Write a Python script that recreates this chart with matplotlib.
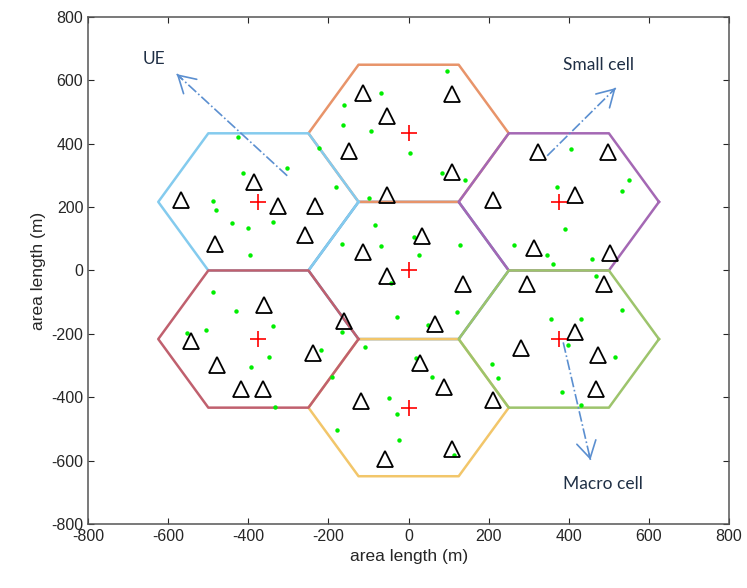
import numpy as np
import matplotlib
matplotlib.use("Agg")
import matplotlib.pyplot as plt

plt.rcParams['axes.unicode_minus'] = False

# hexagon layout (m)
R = 250
macro_x = [0, 0, 0, 375, 375, -375, -375]
macro_y = [0, 433, -433, 216.5, -216.5, 216.5, -216.5]
hex_colors = ['#5a8fc8', '#E8946A', '#F2C66A', '#A468B4', '#9DC46C', '#84CBEE', '#C0606E']

# small cells (triangles)
sc_x = [-569, -386, -326, -233, -258, -484,
        -115, 108, -55, -148, 108, -53,
        324, 497, 416, 211, 313, 502,
        33, -113, -55, 135, -161, 65,
        296, 487, 416, 281, 474, 469,
        -361, -542, -479, -238, -419, -364,
        28, 88, -120, 211, 108, -60]
sc_y = [224, 280, 205, 205, 113, 85,
        561, 557, 488, 378, 312, 239,
        375, 375, 239, 224, 72, 54,
        110, 57, -19, -44, -161, -170,
        -44, -44, -195, -246, -268, -375,
        -110, -224, -299, -261, -375, -375,
        -293, -369, -413, -409, -564, -595]

# users (green dots)
ue_x = [-426, -161, -163, -223, -303, -414, -181, -489, -482, -441, -401, -339, -396, -166, -100,
        95, -68, -93, 3, 83, 140, -85, -68, 13, 25, 128,
        406, 371, 549, 532, 391, 263, 346, 361, 459, 469,
        -489, -431, -339, -507, -552, -166, -218, -349, -394, -191, -334,
        -45, 120, -30, 48, -110, 18, 58, -50, -30, -178, -25, 113, 208, 223,
        532, 356, 431, 399, 514, 384, 431]
ue_y = [422, 523, 460, 387, 324, 309, 265, 220, 192, 151, 135, 154, 50, 85, 230,
        630, 561, 441, 372, 309, 287, 145, 76, 107, 50, 82,
        384, 265, 287, 252, 132, 79, 50, 22, 35, -16,
        -69, -129, -176, -189, -198, -195, -252, -274, -306, -337, -431,
        -41, -132, -148, -173, -243, -277, -337, -403, -454, -504, -535, -583, -296, -340,
        -126, -154, -154, -236, -274, -384, -425]

# annotations: arrow start, arrow end, label, label position
ann_start = [(-303, 299), (346, 362), (386, -227)]
ann_end = [(-579, 620), (517, 576), (454, -598)]
ann_text = ['UE', 'Small cell', 'Macro cell']
ann_pos = [(-637, 668), (475, 649), (484, -674)]

fig = plt.figure(figsize=(7.47, 5.88), dpi=100)
ax = fig.add_axes([0.118, 0.109, 0.858, 0.862])

ang = np.radians(np.arange(0, 361, 60))
for cx, cy, c in zip(macro_x, macro_y, hex_colors):
    ax.plot(cx + R * np.cos(ang), cy + R * np.sin(ang), color=c, lw=1.8)

ax.plot(ue_x, ue_y, 'o', color='#00ee00', ms=3.2, mec='none')
ax.plot(sc_x, sc_y, '^', mfc='none', mec='black', ms=11, mew=1.3)
ax.plot(macro_x, macro_y, '+', color='red', ms=11, mew=1.2)

arr_col = '#5b8fd0'
for (x0, y0), (x1, y1), txt, (tx, ty) in zip(ann_start, ann_end, ann_text, ann_pos):
    ax.plot([x0, x1], [y0, y1], color=arr_col, lw=1.2, ls='-.')
    # solid open head at the end
    hx = x1 - 0.05 * (x1 - x0)
    hy = y1 - 0.05 * (y1 - y0)
    ax.annotate('', xy=(x1, y1), xytext=(hx, hy),
                arrowprops=dict(arrowstyle='->,head_length=0.6,head_width=0.35',
                                color=arr_col, lw=1.2, mutation_scale=20,
                                shrinkA=0, shrinkB=0))
    ax.text(tx, ty, txt, ha='center', va='center', fontsize=12.5,
            family='Lato', color='#1f2f45')

ax.set_xlim(-800, 800)
ax.set_ylim(-800, 800)
ax.set_xticks(np.arange(-800, 801, 200))
ax.set_yticks(np.arange(-800, 801, 200))
ax.tick_params(direction='in', top=True, right=True, labelsize=11.5, colors='#262626',
               length=4)
for lab in ax.get_xticklabels() + ax.get_yticklabels():
    lab.set_family('Liberation Sans')
for s in ax.spines.values():
    s.set_color('#555555')
    s.set_linewidth(1.1)
ax.set_xlabel('area length (m)', fontsize=12.5, family='Liberation Sans', color='#262626')
ax.set_ylabel('area length (m)', fontsize=12.5, family='Liberation Sans', color='#262626')

fig.savefig('out.png', dpi=100)
